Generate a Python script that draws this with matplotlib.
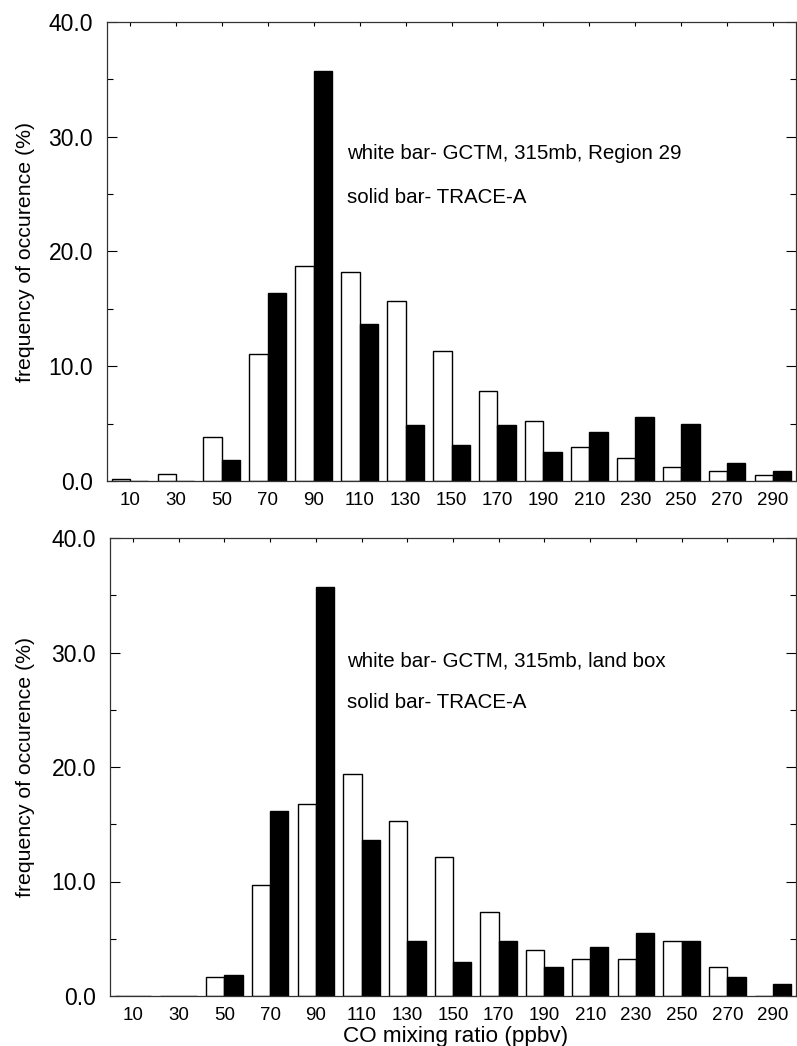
import matplotlib
matplotlib.use("Agg")
import matplotlib.pyplot as plt
import numpy as np
from matplotlib.ticker import MultipleLocator, FormatStrFormatter

plt.rcParams["font.family"] = ["Liberation Sans", "DejaVu Sans"]

# ── Data ──────────────────────────────────────────────────────────────────────
bins = [10, 30, 50, 70, 90, 110, 130, 150, 170, 190, 210, 230, 250, 270, 290]

# top panel: GCTM 315mb Region 29 (white) vs TRACE-A (solid)
gctm_region29 = [0.15, 0.6, 3.8, 11.1, 18.7, 18.2, 15.7, 11.3, 7.8, 5.2, 3.0, 2.0, 1.2, 0.9, 0.5]
trace_a_top   = [0.0, 0.0, 1.8, 16.4, 35.7, 13.7, 4.9, 3.1, 4.9, 2.5, 4.3, 5.6, 5.0, 1.6, 0.9]

# bottom panel: GCTM 315mb land box (white) vs TRACE-A (solid)
gctm_landbox  = [0.0, 0.0, 1.7, 9.7, 16.8, 19.4, 15.3, 12.1, 7.3, 4.0, 3.2, 3.2, 4.8, 2.5, 0.0]
trace_a_bot   = [0.0, 0.0, 1.8, 16.2, 35.7, 13.6, 4.8, 3.0, 4.8, 2.5, 4.3, 5.5, 4.8, 1.7, 1.05]

panels = [
    (gctm_region29, trace_a_top, "white bar- GCTM, 315mb, Region 29"),
    (gctm_landbox,  trace_a_bot, "white bar- GCTM, 315mb, land box"),
]

# ── Figure ────────────────────────────────────────────────────────────────────
fig = plt.figure(figsize=(7.97, 10.46), dpi=100)
ax_rects = [
    [107 / 797, 1 - 481 / 1046, 689 / 797, 459 / 1046],
    [110 / 797, 1 - 996 / 1046, 686 / 797, 458 / 1046],
]
text_pos = [(104.3, 28.5, 24.7), (103.6, 29.3, 25.6)]
ylab_x = [-0.1045, -0.109]

x = np.array(bins, dtype=float)
w = 8.0

for i, ((white_vals, solid_vals, txt), rect, (tx, ty1, ty2)) in enumerate(
        zip(panels, ax_rects, text_pos)):
    ax = fig.add_axes(rect)
    ax.bar(x - w / 2, white_vals, w, color="white", edgecolor="black", linewidth=1.0)
    ax.bar(x + w / 2, solid_vals, w, color="black", edgecolor="black", linewidth=1.0)

    ax.set_xlim(0, 300)
    ax.set_ylim(0, 40)
    ax.set_xticks(bins)
    ax.set_xticklabels([str(b) for b in bins])
    ax.yaxis.set_major_locator(MultipleLocator(10))
    ax.yaxis.set_minor_locator(MultipleLocator(5))
    ax.yaxis.set_major_formatter(FormatStrFormatter("%.1f"))

    ax.tick_params(axis="y", which="major", direction="in", length=7, width=0.8,
                   left=True, right=True, labelsize=16.5, pad=10)
    ax.tick_params(axis="y", which="minor", direction="in", length=4, width=0.8,
                   left=True, right=True)
    ax.tick_params(axis="x", direction="in", length=3, width=0.8,
                   bottom=False, top=True, labelsize=13.5, pad=8)
    for sp in ax.spines.values():
        sp.set_linewidth(0.9)
        sp.set_color("#333333")

    ax.set_ylabel("frequency of occurence (%)", fontsize=15.3)
    ax.yaxis.set_label_coords(ylab_x[i], 0.5)

    ax.text(tx, ty1, txt, fontsize=14.8, va="center", ha="left")
    ax.text(tx, ty2, "solid bar- TRACE-A", fontsize=14.8, va="center", ha="left")

    if i == 1:
        ax.set_xlabel("CO mixing ratio (ppbv)", fontsize=16.2, va="top")
        ax.xaxis.set_label_coords(0.504, -0.0655)

fig.savefig("out.png", dpi=100)
